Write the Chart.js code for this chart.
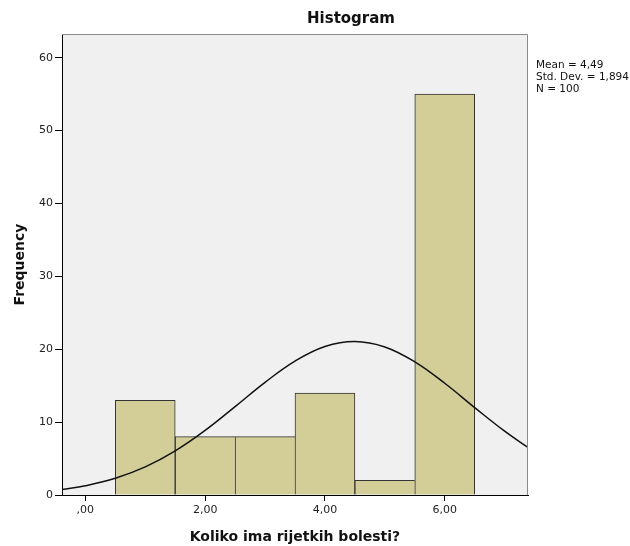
<!DOCTYPE html>
<html>
<head>
<meta charset="utf-8">
<script src="https://cdn.jsdelivr.net/npm/chart.js@4"></script>
<style>
  body { margin: 0; background: #fff; }
  canvas { display: block; }
</style>
</head>
<body>
<canvas id="chartContainer" width="630" height="546"></canvas>
<script>
// Histogram data
const binCenters = [1, 2, 3, 4, 5, 6];
const frequencies = [13, 8, 8, 14, 2, 55];

// Normal curve, read at half steps
const curveX = [-0.39, 0, 0.5, 1, 1.5, 2, 2.5, 3, 3.5, 4, 4.5, 5, 5.5, 6, 6.5, 7, 7.39];
const curveY = [0.76, 1.27, 2.29, 3.85, 6.06, 8.87, 12.13, 15.46, 18.37, 20.37, 21.06, 20.31, 18.27, 15.33, 11.99, 8.75, 6.52];

const xTickValues = [0, 2, 4, 6];
const xTickLabels = [',00', '2,00', '4,00', '6,00'];
const yTickValues = [0, 10, 20, 30, 40, 50, 60];

const chartTitle = 'Histogram';
const xTitle = 'Koliko ima rijetkih bolesti?';
const yTitle = 'Frequency';
const statsLines = ['Mean = 4,49', 'Std. Dev. = 1,894', 'N = 100'];

const FONT = '"DejaVu Sans", Arial, sans-serif';

// plot background + top/right frame + title + stats text
const decorations = {
    id: 'decorations',
    beforeDraw(chart) {
        const { ctx, chartArea: a } = chart;
        ctx.save();
        ctx.fillStyle = '#f0f0f0';
        ctx.fillRect(a.left, a.top, a.right - a.left, a.bottom - a.top);
        ctx.restore();
    },
    afterDraw(chart) {
        const { ctx, chartArea: a } = chart;
        ctx.save();
        ctx.strokeStyle = '#8a8a8a';
        ctx.lineWidth = 1;
        ctx.beginPath();
        ctx.moveTo(a.left, a.top + 0.5);
        ctx.lineTo(a.right - 0.5, a.top + 0.5);
        ctx.lineTo(a.right - 0.5, a.bottom);
        ctx.stroke();

        ctx.fillStyle = '#111';
        ctx.textAlign = 'center';
        ctx.textBaseline = 'middle';
        ctx.font = 'bold 15px ' + FONT;
        ctx.fillText(chartTitle, 351, 19);

        ctx.textAlign = 'left';
        ctx.font = '10.5px ' + FONT;
        statsLines.forEach((line, i) => {
            ctx.fillText(line, 536, 65.5 + i * 11.7);
        });
        ctx.restore();
    }
};

const ctx = document.getElementById('chartContainer').getContext('2d');

new Chart(ctx, {
    type: 'bar',
    data: {
        datasets: [{
            type: 'line',
            data: curveX.map((x, i) => ({ x: x, y: curveY[i] })),
            borderColor: '#111',
            borderWidth: 1.5,
            pointRadius: 0,
            tension: 0.4,
            fill: false,
            order: 0
        }, {
            type: 'bar',
            data: binCenters.map((x, i) => ({ x: x, y: frequencies[i] })),
            backgroundColor: '#d3ce98',
            borderColor: '#333',
            borderSkipped: false,
            borderWidth: (c) => {
                const i = c.dataIndex;
                const last = i === frequencies.length - 1;
                return { top: 1, left: 1, bottom: 0, right: (last || frequencies[i] > frequencies[i + 1]) ? 1 : 0 };
            },
            barPercentage: 1,
            categoryPercentage: 1,
            order: 1
        }]
    },
    options: {
        responsive: false,
        animation: false,
        layout: { padding: { left: 0, right: 102, top: 34, bottom: 0 } },
        plugins: {
            legend: { display: false },
            tooltip: { enabled: false }
        },
        scales: {
            x: {
                type: 'linear',
                min: -0.39,
                max: 7.39,
                offset: false,
                afterFit: (scale) => { scale.height = 51; },
                afterBuildTicks: (scale) => { scale.ticks = xTickValues.map(v => ({ value: v })); },
                ticks: {
                    autoSkip: false,
                    maxRotation: 0,
                    padding: 3,
                    color: '#222',
                    font: { family: FONT, size: 11 },
                    callback: (value) => xTickLabels[xTickValues.indexOf(value)]
                },
                grid: { offset: false, drawOnChartArea: false, drawTicks: true, tickLength: 6, tickColor: '#000' },
                border: { display: true, color: '#000', width: 1 },
                title: {
                    display: true,
                    text: xTitle,
                    color: '#111',
                    padding: { top: 0, bottom: 0 },
                    font: { family: FONT, size: 14, weight: 'bold' }
                }
            },
            y: {
                min: 0,
                max: 63.25,
                afterFit: (scale) => { scale.width = 62; },
                afterBuildTicks: (scale) => { scale.ticks = yTickValues.map(v => ({ value: v })); },
                ticks: {
                    padding: 2,
                    color: '#222',
                    font: { family: FONT, size: 11 }
                },
                grid: { drawOnChartArea: false, drawTicks: true, tickLength: 7, tickColor: '#000' },
                border: { display: true, color: '#000', width: 1 },
                title: {
                    display: true,
                    text: yTitle,
                    color: '#111',
                    padding: { top: 12, bottom: 0 },
                    font: { family: FONT, size: 14, weight: 'bold' }
                }
            }
        }
    },
    plugins: [decorations]
});
</script>
</body>
</html>
